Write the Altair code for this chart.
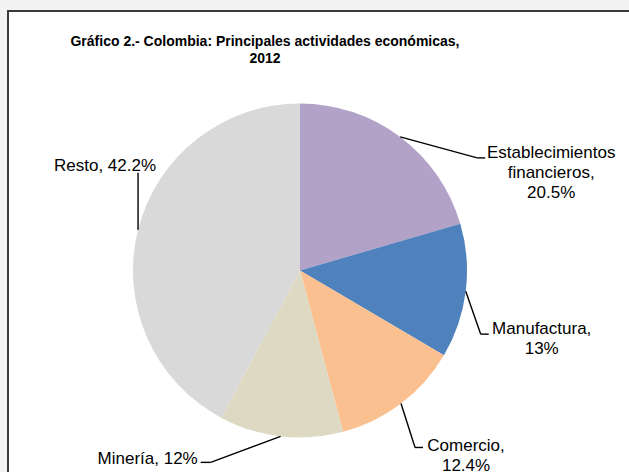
import textwrap
import numpy as np
import pandas as pd
import altair as alt

# ---------------- data ----------------
categories = ["Establecimientos financieros", "Manufactura", "Comercio", "Minería", "Resto"]
values = [20.5, 13.0, 12.4, 12.0, 42.2]
colors = ["#B3A2C7", "#4F81BD", "#FAC090", "#DDD9C3", "#D9D9D9"]
title_lines = ["Gráfico 2.- Colombia: Principales actividades económicas,", "2012"]

# ---------------- layout ----------------
W, H = 629, 472
CX, CY, R = 300, 270.5, 167
elbow_dx = [77, 15, 14, -70, 0]      # leader elbow offset from slice anchor
elbow_dy = [21, 43, 44, 26, -57]
tail_len = [8, 8, 8, -10, 0]         # short horizontal tail
label_dx = [66, 53, 43, -53, -33]    # label position from tail end
label_dy = [0, 0, 4, 2, -2]
wrap_w = [16, 12, 9, 40, 40]

total = float(sum(values))
cum = np.cumsum(values)
mid = (cum - np.array(values) / 2) / total * 2 * np.pi
ax = CX + R * np.sin(mid)
ay = CY - R * np.cos(mid)
ex = ax + np.array(elbow_dx)
ey = ay + np.array(elbow_dy)
tx = ex + np.array(tail_len)
lx = tx + np.array(label_dx)
ly = ey + np.array(label_dy)

labels = ["\n".join(textwrap.wrap(f"{c}, {v:g}%", w)) for c, v, w in zip(categories, values, wrap_w)]

df = pd.DataFrame({
    "category": categories,
    "value": values,
    "idx": list(range(len(categories))),
    "ax": ax, "ay": ay, "ex": ex, "ey": ey, "tx": tx,
    "lx": lx, "ly": ly, "label": labels,
})

one = pd.DataFrame({"a": [0]})

frame = alt.Chart(one).mark_rect(fill="white", stroke="#3a3a3a", strokeWidth=2).encode(
    x=alt.value(8), x2=alt.value(660), y=alt.value(11), y2=alt.value(500)
)

pie = alt.Chart(df).mark_arc(radius=R).encode(
    theta=alt.Theta("value:Q", stack=True),
    color=alt.Color("category:N", scale=alt.Scale(domain=categories, range=colors), legend=None),
    order=alt.Order("idx:Q"),
    x=alt.value(CX),
    y=alt.value(CY),
)

lead1 = alt.Chart(df).mark_rule(color="black", strokeWidth=1.4).encode(
    x=alt.X("ax:Q", scale=None), y=alt.Y("ay:Q", scale=None), x2="ex:Q", y2="ey:Q"
)
lead2 = alt.Chart(df).mark_rule(color="black", strokeWidth=1.4).encode(
    x=alt.X("ex:Q", scale=None), y=alt.Y("ey:Q", scale=None), x2="tx:Q", y2="ey:Q"
)

text = alt.Chart(df).mark_text(
    font="Liberation Sans", fontSize=17, lineBreak="\n", lineHeight=20,
    align="center", baseline="alphabetic", color="black",
).encode(x=alt.X("lx:Q", scale=None), y=alt.Y("ly:Q", scale=None), text="label:N")

title = alt.Chart(one).mark_text(
    text=title_lines, font="Liberation Sans", fontWeight="bold",
    fontSize=14, lineHeight=16.5, align="center", baseline="alphabetic", color="black",
).encode(x=alt.value(265), y=alt.value(46))

chart = alt.layer(frame, pie, lead1, lead2, text, title).properties(
    width=W, height=H, autosize=alt.AutoSizeParams(type="none"), padding=0,
    background="#F2F2F2",
).configure_view(stroke=None)

chart.save("out.html", embed_options={"renderer": "svg", "actions": False})
